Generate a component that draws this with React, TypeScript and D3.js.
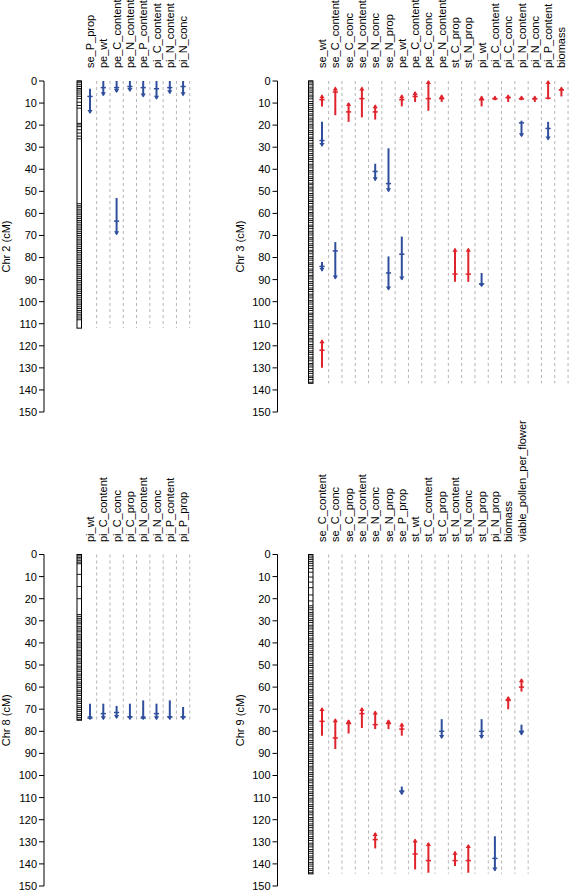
import React from "react";
import * as d3 from "d3";

// ---------- data ----------
const chr2Traits = ["se_P_prop", "pe_wt", "pe_C_content", "pe_N_content", "pe_P_content", "pi_C_content", "pi_N_content", "pi_N_conc"];
const chr3Traits = ["se_wt", "se_C_content", "se_C_conc", "se_N_content", "se_N_conc", "se_N_prop", "pe_wt", "pe_C_content", "pe_C_conc", "pe_N_content", "st_C_prop", "st_N_prop", "pi_wt", "pi_C_content", "pi_C_conc", "pi_N_content", "pi_N_conc", "pi_P_content", "biomass"];
const chr8Traits = ["pi_wt", "pi_C_content", "pi_C_conc", "pi_C_prop", "pi_N_content", "pi_N_conc", "pi_P_content", "pi_P_prop"];
const chr9Traits = ["se_C_content", "se_C_conc", "se_C_prop", "se_N_content", "se_N_conc", "se_N_prop", "se_P_prop", "st_wt", "st_C_content", "st_C_prop", "st_N_content", "st_N_conc", "st_N_prop", "pi_N_prop", "biomass", "viable_pollen_per_flower"];

// [trait, direction ("up" red / "down" blue), lo, peak, hi] in cM
type Q = [string, string, number, number, number];
const chr2Qtl: Q[] = [
  ["se_P_prop", "down", 3.5, 7, 14.5],
  ["pe_wt", "down", 0, 3, 6.5],
  ["pe_C_content", "down", 0, 3, 5],
  ["pe_C_content", "down", 53, 63.5, 69.5],
  ["pe_N_content", "down", 0, 2.5, 4.5],
  ["pe_P_content", "down", 0, 3, 7],
  ["pi_C_content", "down", 0, 3.5, 8],
  ["pi_N_content", "down", 0, 3, 5.5],
  ["pi_N_conc", "down", 0, 2.5, 6.5],
];
const chr3Qtl: Q[] = [
  ["se_wt", "up", 6.5, 8.5, 11.5],
  ["se_wt", "down", 18.5, 27, 29.5],
  ["se_wt", "down", 82, 84, 86],
  ["se_wt", "up", 117.5, 122, 130],
  ["se_C_content", "up", 3, 5, 15.5],
  ["se_C_content", "down", 73, 77, 89.5],
  ["se_C_conc", "up", 10, 14, 18.5],
  ["se_N_content", "up", 3, 8, 16.5],
  ["se_N_conc", "up", 11, 14, 17.5],
  ["se_N_conc", "down", 37.5, 41, 45],
  ["se_N_prop", "down", 30.5, 46.5, 50],
  ["se_N_prop", "down", 79.5, 87, 94.5],
  ["pe_wt", "up", 6.5, 8.5, 11.5],
  ["pe_wt", "down", 70.5, 78.5, 90],
  ["pe_C_content", "up", 5, 7, 9.5],
  ["pe_C_conc", "up", 0, 8, 13.5],
  ["pe_N_content", "up", 6.5, 8, 9.5],
  ["st_C_prop", "up", 76, 87.5, 91],
  ["st_N_prop", "up", 76, 87.5, 91],
  ["pi_wt", "up", 7, 8.5, 11.5],
  ["pi_wt", "down", 87, 92, 93],
  ["pi_C_content", "up", 7, 8, 8.7],
  ["pi_C_conc", "up", 6.5, 7.5, 9.5],
  ["pi_N_content", "up", 7, 8, 8.7],
  ["pi_N_content", "down", 18, 19, 25],
  ["pi_N_conc", "up", 7, 8, 9.5],
  ["pi_P_content", "up", 0, 7.8, 8.3],
  ["pi_P_content", "down", 18.5, 21.5, 26.5],
  ["biomass", "up", 3, 4, 7],
];
const chr8Qtl: Q[] = [
  ["pi_wt", "down", 67.5, 74, 74.5],
  ["pi_C_content", "down", 67.5, 72, 74.5],
  ["pi_C_conc", "down", 68.5, 71.5, 74],
  ["pi_C_prop", "down", 67.5, 73.5, 74.5],
  ["pi_N_content", "down", 66, 74, 74.5],
  ["pi_N_conc", "down", 67.5, 72, 74.5],
  ["pi_P_content", "down", 66, 73.5, 74.5],
  ["pi_P_prop", "down", 69, 73.5, 74.5],
];
const chr9Qtl: Q[] = [
  ["se_C_content", "up", 69.5, 75.5, 82],
  ["se_C_conc", "up", 74.5, 83, 88],
  ["se_C_prop", "up", 75, 76.5, 81],
  ["se_N_content", "up", 69.5, 72, 78.5],
  ["se_N_conc", "up", 71, 77, 79],
  ["se_N_conc", "up", 126, 129, 133],
  ["se_N_prop", "up", 75, 76.5, 79],
  ["se_P_prop", "up", 76.5, 79, 82],
  ["se_P_prop", "down", 105, 107, 108.5],
  ["st_wt", "up", 129, 135.5, 142.5],
  ["st_C_content", "up", 130.5, 138.5, 144],
  ["st_C_prop", "down", 74.5, 80, 83],
  ["st_N_content", "up", 134.5, 138.5, 141],
  ["st_N_conc", "up", 131.5, 138.5, 144],
  ["st_N_prop", "down", 74.5, 80, 83],
  ["pi_N_prop", "down", 127.5, 137.5, 143],
  ["biomass", "up", 64.5, 66, 70],
  ["viable_pollen_per_flower", "up", 56.5, 60, 62],
  ["viable_pollen_per_flower", "down", 77, 80, 81.5],
];

const chr2Markers = [0, 0.8, 1.7, 2.5, 3.4, 4.1, 5, 5.9, 6.9, 8, 9.6, 11.1, 12.3, 19.2, 19.9, 20.7, 22.1, 23.6, 25, 26.2, 55.6, 56.5, 57.2, 58.1, 58.9, 59.8, 60.6, 61.5, 62.3, 63.2, 64, 64.9, 65.7, 66.6, 67.4, 68.3, 69.1, 70, 70.8, 71.7, 72.5, 73.4, 74.2, 75.1, 75.9, 76.8, 77.6, 78.5, 79.3, 80.2, 81, 81.9, 82.7, 83.6, 84.4, 85.3, 86.1, 87, 87.8, 88.7, 89.5, 90.4, 91.2, 92.1, 92.9, 93.8, 94.6, 95.5, 96.3, 97.2, 98, 98.9, 99.7, 100.6, 101.4, 102.3, 103.1, 104, 104.8, 105.7, 106.5, 107.4, 108.2];
const chr3Markers = [0, 0.9, 1.7, 2.8, 3.6, 4.5, 5.3, 6.4, 7.2, 8.1, 9.3, 10.2, 11, 12.1, 13, 13.8, 14.9, 15.7, 16.8, 17.6, 18.5, 19.6, 20.4, 21.3, 22.5, 23.3, 24.2, 25.4, 26.1, 27, 28.2, 29.1, 29.9, 31, 31.8, 32.9, 33.7, 34.8, 35.6, 36.5, 37.7, 38.5, 39.4, 40.6, 41.3, 42.2, 43.4, 44.2, 45.1, 46.3, 47, 48.1, 48.9, 49.8, 51, 51.8, 52.7, 53.9, 54.6, 55.5, 56.7, 57.5, 58.4, 59.6, 60.3, 61.2, 62.4, 63.2, 64.1, 65.3, 66, 66.9, 68.1, 68.9, 69.8, 71, 71.7, 72.6, 73.8, 74.6, 75.5, 76.7, 77.4, 78.3, 79.5, 80.3, 81.2, 82.4, 83.1, 84, 85.2, 86, 86.9, 88.1, 88.8, 89.7, 90.9, 91.7, 92.6, 93.8, 94.5, 95.4, 96.6, 97.4, 98.3, 99.5, 100.2, 101.1, 102.3, 103.1, 104, 105.2, 105.9, 106.8, 108, 108.8, 109.7, 110.9, 111.6, 112.5, 113.7, 114.5, 115.4, 116.6, 117.3, 118.2, 119.4, 120.2, 121.1, 122.3, 123, 123.9, 125.1, 125.9, 126.8, 128, 128.7, 129.6, 130.8, 131.6, 132.5, 133.7, 134.4, 135.3, 136.5];
const chr8Markers = [0, 0.6, 1.3, 2, 2.8, 3.5, 4.2, 9, 14.5, 20, 27.2, 28, 28.9, 29.7, 30.6, 31.4, 32.5, 33.3, 34.2, 35, 36.1, 36.9, 37.8, 38.6, 39.7, 40.5, 41.4, 42.2, 43.3, 44.1, 45, 45.8, 46.9, 47.7, 48.6, 49.4, 50.5, 51.3, 52.2, 53, 54.1, 54.9, 55.8, 56.6, 57.7, 58.5, 59.4, 60.2, 61.3, 62.1, 63, 63.8, 64.9, 65.7, 66.6, 67.4, 68.5, 69.3, 70.2, 71, 72.1, 72.9, 73.8, 74.6];
const chr9Markers = [0, 0.7, 1.5, 2.3, 3.2, 4, 5.1, 6.3, 8, 10.2, 12.5, 15, 18.3, 21, 23.2, 24.1, 25, 26.2, 27, 27.9, 29.1, 29.9, 30.8, 32, 32.8, 33.7, 34.9, 35.7, 36.6, 37.8, 38.6, 39.5, 40.7, 41.5, 42.4, 43.6, 44.4, 45.3, 46.5, 47.3, 48.2, 49.4, 50.2, 51.1, 52.3, 53.1, 54, 55.2, 56, 56.9, 58.1, 58.9, 59.8, 61, 61.8, 62.7, 63.9, 64.7, 65.6, 66.8, 67.6, 68.5, 69.7, 70.5, 71.4, 72.6, 73.4, 74.3, 75.5, 76.3, 77.2, 78.4, 79.2, 80.1, 81.3, 82.1, 83, 84.2, 85, 85.9, 87.1, 87.9, 88.8, 90, 90.8, 91.7, 92.9, 93.7, 94.6, 95.8, 96.6, 97.5, 98.7, 99.5, 100.4, 101.6, 102.4, 103.3, 104.5, 105.3, 106.2, 107.4, 108.2, 109.1, 110.3, 111.1, 112, 113.2, 114, 114.9, 116.1, 116.9, 117.8, 119, 119.8, 120.7, 121.9, 122.7, 123.6, 124.8, 125.6, 126.5, 127.7, 128.5, 129.4, 130.6, 131.4, 132.3, 133.5, 134.3, 135.2, 136.4, 137.2, 138.1, 139.3, 140.1, 141, 142.2, 143, 144];

const chrNames = ["2", "3", "8", "9"];
const chrLengths = [112, 137, 75, 144.5];
const yTicks = [0, 10, 20, 30, 40, 50, 60, 70, 80, 90, 100, 110, 120, 130, 140, 150];

// ---------- layout ----------
const RED = "#e0232b";
const BLUE = "#2f4f9d";
const FONT = "'Liberation Sans', Arial, Helvetica, sans-serif";
const STEP = 13.3;

const layouts = [
  { axisX: 44, barL: 77, barR: 81.5, col0: 90, yr: [81, 412], labY: 68, titleX: 10 },
  { axisX: 277.5, barL: 308.5, barR: 313, col0: 322, yr: [81, 412], labY: 68, titleX: 244 },
  { axisX: 44, barL: 77, barR: 81.5, col0: 90, yr: [554.5, 886], labY: 542, titleX: 10 },
  { axisX: 277.5, barL: 308.5, barR: 313, col0: 322, yr: [554.5, 886], labY: 542, titleX: 244 },
];
const traitsAll = [chr2Traits, chr3Traits, chr8Traits, chr9Traits];
const qtlAll = [chr2Qtl, chr3Qtl, chr8Qtl, chr9Qtl];
const markersAll = [chr2Markers, chr3Markers, chr8Markers, chr9Markers];

function Panel({ idx }: { idx: number }) {
  const L = layouts[idx];
  const traits = traitsAll[idx];
  const y = d3.scaleLinear().domain([0, 150]).range(L.yr);
  const x = d3
    .scalePoint<string>()
    .domain(traits)
    .range([L.col0, L.col0 + STEP * (traits.length - 1)]);
  const len = chrLengths[idx];
  return (
    <g>
      {/* axis */}
      <line x1={L.axisX} x2={L.axisX} y1={y(0)} y2={y(150)} stroke="#000" strokeWidth={1} />
      {yTicks.map((t) => (
        <g key={t}>
          <line x1={L.axisX - 5} x2={L.axisX} y1={y(t)} y2={y(t)} stroke="#000" strokeWidth={1} />
          <text x={L.axisX - 7} y={y(t)} dy="0.36em" textAnchor="end" fontSize={11} fontFamily={FONT}>
            {t}
          </text>
        </g>
      ))}
      <text
        transform={`translate(${L.titleX},${(y(0) + y(150)) / 2}) rotate(-90)`}
        textAnchor="middle"
        fontSize={11}
        fontFamily={FONT}
      >
        {`Chr ${chrNames[idx]} (cM)`}
      </text>
      {/* chromosome */}
      <rect x={L.barL} y={y(0)} width={L.barR - L.barL} height={y(len) - y(0)} fill="#fff" stroke="#000" strokeWidth={1} />
      {markersAll[idx].map((m, i) => (
        <line key={i} x1={L.barL} x2={L.barR} y1={y(m)} y2={y(m)} stroke="#000" strokeWidth={0.9} />
      ))}
      {/* dashed guides */}
      {traits.map((t) => (
        <line
          key={t}
          x1={(x(t) as number) + STEP / 2}
          x2={(x(t) as number) + STEP / 2}
          y1={y(0)}
          y2={y(len)}
          stroke="#b5b5b5"
          strokeWidth={1}
          strokeDasharray="3,3"
        />
      ))}
      {/* labels */}
      {traits.map((t) => (
        <text
          key={t}
          transform={`translate(${(x(t) as number) + 4},${L.labY}) rotate(-90)`}
          fontSize={11}
          fontFamily={FONT}
        >
          {t}
        </text>
      ))}
      {/* QTL */}
      {qtlAll[idx].map((q, i) => {
        const [t, dir, lo, pk, hi] = q;
        const cx = x(t) as number;
        const col = dir === "up" ? RED : BLUE;
        const yl = y(lo);
        const yh = y(hi);
        const yp = y(pk);
        const arrow =
          dir === "up"
            ? `M${cx},${yl - 1} L${cx - 2.6},${yl + 3} L${cx + 2.6},${yl + 3} Z`
            : `M${cx},${yh + 1} L${cx - 2.6},${yh - 3} L${cx + 2.6},${yh - 3} Z`;
        return (
          <g key={i}>
            <line x1={cx} x2={cx} y1={yl} y2={yh} stroke={col} strokeWidth={2} />
            <line x1={cx - 2.6} x2={cx + 2.6} y1={yp} y2={yp} stroke={col} strokeWidth={1.5} />
            <path d={arrow} fill={col} />
          </g>
        );
      })}
    </g>
  );
}

export default function App() {
  return (
    <div style={{ position: "absolute", left: 0, top: 0 }}>
      <svg width={569} height={891} style={{ display: "block", background: "#fff" }}>
        {[0, 1, 2, 3].map((i) => (
          <Panel key={i} idx={i} />
        ))}
      </svg>
    </div>
  );
}
